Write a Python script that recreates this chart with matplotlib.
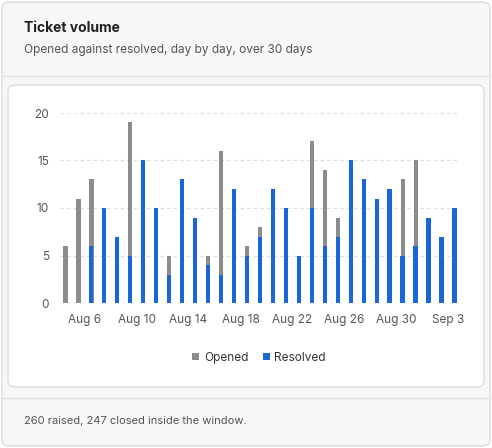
import matplotlib
matplotlib.use("Agg")
import matplotlib.pyplot as plt
from matplotlib.patches import FancyBboxPatch
import numpy as np
import datetime as dt

start = dt.date(2024, 8, 5)
days = [start + dt.timedelta(days=i) for i in range(30)]
opened = [6,11,13,5,3,19,10,10,5,7,4,5,16,9,6,8,8,5,4,17,14,9,7,10,6,1,13,15,7,7]
resolved = [0,6,10,7,5,15,10,3,13,9,4,3,12,5,7,12,10,5,10,6,7,15,13,11,12,5,6,9,7,10]
tick_idx = list(range(1, 30, 4))
tick_labels = [f"{days[i]:%b} {days[i].day}" for i in tick_idx]

plt.rcParams['font.family'] = ['Inter', 'DejaVu Sans']
W, H = 492, 448
fig = plt.figure(figsize=(W/100, H/100), dpi=100)
fig.patch.set_facecolor('white')

def px(x, y, w, h):
    return [x/W, 1-(y+h)/H, w/W, h/H]

outer = FancyBboxPatch((2/W, 2/H), 488/W, 444/H, boxstyle="round,pad=0,rounding_size=0.015",
                       transform=fig.transFigure, facecolor='#f7f7f7', edgecolor='#dddddd', lw=1, zorder=-10)
fig.patches.append(outer)
inner = FancyBboxPatch((8/W, 1-387/H), 476/W, 302/H, boxstyle="round,pad=0,rounding_size=0.015",
                       transform=fig.transFigure, facecolor='white', edgecolor='#dddddd', lw=1, zorder=-9)
fig.patches.append(inner)
fig.add_artist(plt.Line2D([2/W, 490/W], [1-76/H]*2, color='#e2e2e2', lw=1, zorder=-9))
fig.add_artist(plt.Line2D([2/W, 490/W], [1-398/H]*2, color='#e2e2e2', lw=1, zorder=-9))

fig.text(24/W, 1-28/H, "Ticket volume", fontsize=10, fontweight='bold', color='#222222', va='center')
fig.text(24/W, 1-50/H, "Opened against resolved, day by day, over 30 days", fontsize=8.5, color='#555555', va='center')
fig.text(24/W, 1-421/H, "260 raised, 247 closed inside the window.", fontsize=8, color='#555555', va='center')

ax = fig.add_axes(px(60, 113, 398, 190))
x = np.arange(30)
bw = 0.32
ax.bar(x - 0.48, opened, width=bw, color='#8c8c8c', label='Opened', align='center')
ax.bar(x + 0.48, resolved, width=bw, color='#1a66d9', label='Resolved', align='center')
ax.set_ylim(0, 20)
ax.set_xlim(-0.9, 29.75)
ax.set_yticks([0, 5, 10, 15, 20])
ax.set_xticks(tick_idx)
ax.set_xticklabels(tick_labels)
ax.tick_params(length=0, labelsize=8.5, colors='#555555', pad=8)
for s in ax.spines.values():
    s.set_visible(False)
ax.grid(axis='y', linestyle=(0, (3, 3)), color='#dddddd', lw=0.8)
ax.set_axisbelow(True)
ax.set_facecolor('none')
ax.legend(loc='upper center', bbox_to_anchor=(0.5, -0.2), ncol=2, frameon=False,
          fontsize=8.5, handlelength=0.6, handleheight=0.6, handletextpad=0.4, columnspacing=1.2,
          labelcolor='#333333')

fig.savefig("out.png", dpi=100)
